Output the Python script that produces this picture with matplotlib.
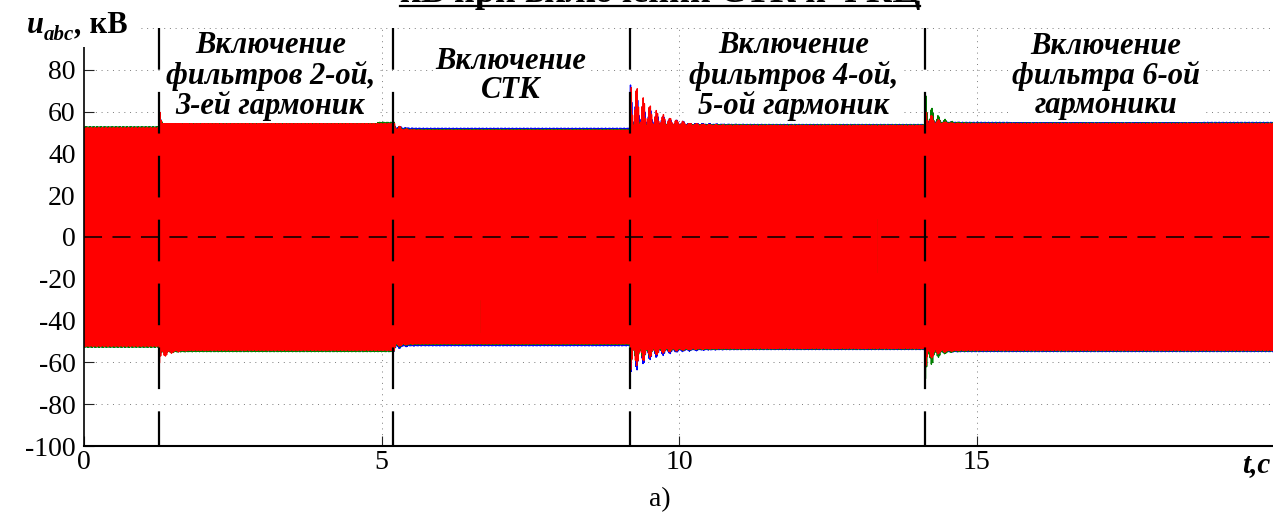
import numpy as np
import matplotlib
matplotlib.use("Agg")
import matplotlib.pyplot as plt
from matplotlib.lines import Line2D
from matplotlib.patches import Rectangle
from matplotlib.text import Annotation
from matplotlib.transforms import Bbox

plt.rcParams["font.family"] = ["Liberation Serif", "DejaVu Serif"]
plt.rcParams["lines.scale_dashes"] = False
plt.rcParams["agg.path.chunksize"] = 10000

# ---- data -------------------------------------------------------------
# switching instants, s
switch_times = [1.26, 5.20, 9.18, 14.14]
# steady-state phase amplitudes in each interval, kV
amp_a = [52.6, 54.6, 52.1, 53.9, 54.9]   # phase A (blue)
amp_b = [52.8, 54.9, 51.5, 53.7, 54.6]   # phase B (green)
amp_c = [52.3, 54.3, 51.2, 53.4, 54.3]   # phase C (red)
# extreme values of the switching transients, kV
peak_hi_a = [58.5, 54.6, 72.7, 60.0]
peak_lo_a = [-57.0, -54.6, -64.3, -58.0]
peak_hi_b = [57.5, 54.9, 63.0, 67.4]
peak_lo_b = [-57.5, -54.9, -62.0, -67.8]
peak_hi_c = [59.6, 54.3, 71.5, 59.6]
peak_lo_c = [-60.3, -54.3, -63.5, -61.5]
# decay time constants of the transients, s
decay_tau = [0.14, 0.10, 0.35, 0.15]

f_grid = 50.0       # supply frequency, Hz
f_beat = 9.0        # envelope beat of the transient, Hz
t_end = 20.0

x_ticks = [0, 5, 10, 15, 20]
x_tick_labels = ["0", "5", "10", "15", ""]
y_ticks = [-100, -80, -60, -40, -20, 0, 20, 40, 60, 80, 100]
y_tick_labels = ["-100", "-80", "-60", "-40", "-20", "0", "20", "40", "60", "80", ""]

notes = [
    (3.13, "Включение\nфильтров 2-ой,\n3-ей гармоник"),
    (7.18, "Включение\nСТК"),
    (11.93, "Включение\nфильтров 4-ой,\n5-ой гармоник"),
    (17.18, "Включение\nфильтра 6-ой\nгармоники"),
]

# ---- waveforms --------------------------------------------------------
t = np.arange(0.0, t_end, 1.0 / 1234.0)
seg = np.searchsorted(switch_times, t, side="right")


def synthesize(amps, swings, dcs, shift):
    amp = np.asarray(amps, dtype=float)[seg]
    offset = np.zeros_like(t)
    for k, ts in enumerate(switch_times):
        dt = t - ts
        on = dt >= 0
        env = np.exp(-dt[on] / decay_tau[k])
        beat = 0.5 * (1.0 + np.cos(2 * np.pi * f_beat * dt[on]))
        amp[on] += swings[k] * env * beat
        offset[on] += dcs[k] * env * beat
    return amp * np.sin(2 * np.pi * f_grid * t + shift) + offset


def phase_voltage(amps, hi, lo, shift):
    # transient swing and offset tuned so that the extremes after each
    # switching reach the given peak values
    target = [max((h - l) / 2.0 - a, 0.0) for h, l, a in zip(hi, lo, amps[1:])]
    mid = [(h + l) / 2.0 for h, l in zip(hi, lo)]
    swings = list(target)
    dcs = list(mid)
    for _ in range(4):
        v = synthesize(amps, swings, dcs, shift)
        for k, ts in enumerate(switch_times):
            if target[k] <= 0:
                continue
            w = (t >= ts) & (t < ts + 3.0)
            vmax, vmin = v[w].max(), v[w].min()
            got = (vmax - vmin) / 2.0 - amps[k + 1]
            if got > 0:
                swings[k] *= target[k] / got
            dcs[k] += mid[k] - (vmax + vmin) / 2.0
    return synthesize(amps, swings, dcs, shift)


ua = phase_voltage(amp_a, peak_hi_a, peak_lo_a, 0.0)
ub = phase_voltage(amp_b, peak_hi_b, peak_lo_b, -2 * np.pi / 3)
uc = phase_voltage(amp_c, peak_hi_c, peak_lo_c, 2 * np.pi / 3)

# ---- figure -----------------------------------------------------------
W, H = 1273, 514
fig = plt.figure(figsize=(W / 100, H / 100), dpi=100)
ax = fig.add_axes([84 / W, 68 / H, (1274 - 84) / W, (446 - 28) / H])

ax.set_xlim(0, 20)
ax.set_ylim(-100, 100)

grid_style = dict(color="#666666", lw=0.6, linestyle=(0, (0.7, 3.4)), zorder=1)
for yv in y_ticks:
    ax.axhline(yv, **grid_style)
for xv in x_ticks[1:]:
    ax.axvline(xv, **grid_style)

ax.plot(t, ua, color=(0, 0, 1), lw=1.0, zorder=2)
ax.plot(t, ub, color=(0, 0.5, 0), lw=1.0, zorder=2)
ax.plot(t, uc, color=(1, 0, 0), lw=1.0, zorder=2)

# zero line and switching instants
ax.plot([0, t_end], [0, 0], color="black", lw=1.1,
        linestyle=(0, (13, 7.5)), zorder=3)
for ts in switch_times:
    ax.plot([ts, ts], [100, -100], color="black", lw=1.6,
            linestyle=(0, (30, 16)), zorder=3, solid_capstyle="butt")

ax.set_xticks(x_ticks)
ax.set_xticklabels(x_tick_labels)
ax.set_yticks(y_ticks)
ax.set_yticklabels(y_tick_labels)
ax.tick_params(direction="in", length=7, width=0.8, labelsize=20, color="#222222")
ax.tick_params(axis="x", pad=3)
ax.tick_params(axis="y", pad=6)

for s in ("top", "right"):
    ax.spines[s].set_visible(False)
ax.spines["bottom"].set_linewidth(1.5)
ax.spines["left"].set_linewidth(1.2)
ax.spines["bottom"].set_zorder(4)

for xc, txt in notes:
    ax.text(xc, 77, txt, ha="center", va="center", fontsize=22,
            fontweight="bold", style="italic", linespacing=1.0, zorder=5,
            bbox=dict(facecolor="white", edgecolor="none", pad=1.5))

# vertical axis caption: u_abc, кВ
y_base = 1 - 33 / H
bi = dict(fontweight="bold", style="italic")
t_u = fig.text(27 / W, y_base, "u", fontsize=22, va="baseline", zorder=7, **bi)
t_sub = Annotation("abc", xy=(1, 0), xycoords=t_u, fontsize=15,
                   va="baseline", ha="left", zorder=7, **bi)
fig.add_artist(t_sub)
t_com = Annotation(",", xy=(1, y_base), xycoords=(t_sub, "figure fraction"),
                   fontsize=22, va="baseline", ha="left", zorder=7, **bi)
fig.add_artist(t_com)
t_kv = Annotation(" кВ", xy=(1, y_base), xycoords=(t_com, "figure fraction"),
                  fontsize=22, fontweight="bold", va="baseline", ha="left",
                  zorder=7)
fig.add_artist(t_kv)

fig.text(1270 / W, 1 - 472 / H, "t,c", fontsize=21, ha="right",
         va="baseline", **bi)
fig.text(660 / W, 1 - 500 / H, "а)", fontsize=20, ha="center", va="center")

title = fig.text(660 / W, 1 - 1.5 / H,
                 "кВ при включении СТК и ФКЦ", fontsize=26,
                 fontweight="bold", ha="center", va="baseline")

fig.canvas.draw()
renderer = fig.canvas.get_renderer()
to_fig = fig.transFigure.inverted()

# white backing under the axis caption
cap = Bbox.union([a.get_window_extent(renderer) for a in (t_u, t_sub, t_com, t_kv)])
x0, y0 = cap.x0 - 3, cap.y0 - 2
x1, y1 = cap.x1 + 10, cap.y1 + 3
(fx0, fy0), (fx1, fy1) = to_fig.transform([(x0, y0), (x1, y1)])
fig.add_artist(Rectangle((fx0, fy0), fx1 - fx0, fy1 - fy0,
                         transform=fig.transFigure, facecolor="white",
                         edgecolor="none", zorder=6))

# underline of the heading
bb = title.get_window_extent(renderer).transformed(to_fig)
uy = 1 - 5.5 / H
fig.add_artist(Line2D([bb.x0, bb.x1], [uy, uy], transform=fig.transFigure,
                      color="black", lw=1.6))

fig.savefig("out.png", dpi=100)
